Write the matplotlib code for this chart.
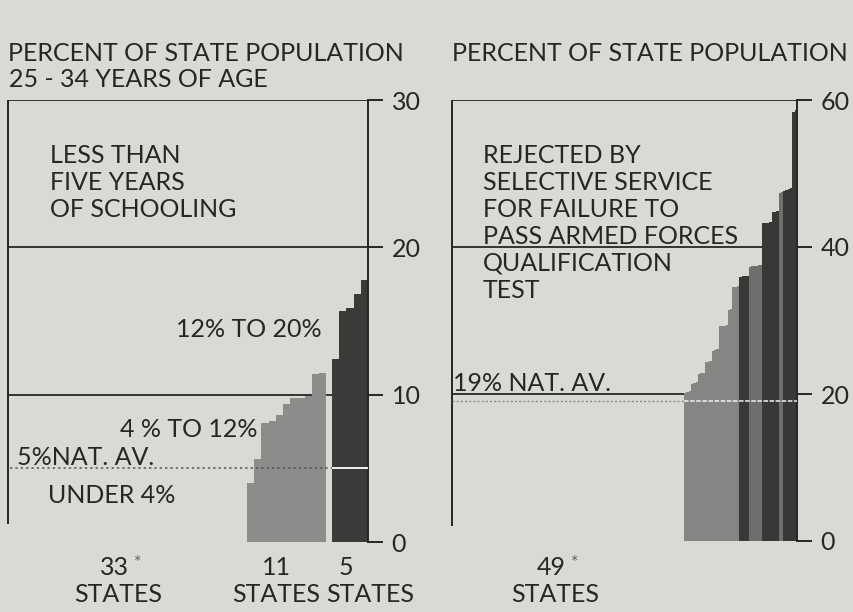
import numpy as np
import matplotlib.pyplot as plt

# left panel - percent 25-34 yr olds with less than five years of schooling
under4_count = 33          # states under 4% (no bar shown)
mid_vals = [4.0, 5.6, 8.1, 8.2, 8.6, 9.4, 9.8, 9.8, 9.9, 11.4, 11.5]   # 4% to 12%
high_vals = [12.4, 15.7, 15.9, 16.8, 17.8]                             # 12% to 20%
school_avg = 5
left_ticks = [0, 10, 20, 30]

# right panel - rejected by selective service, 49 states ascending
reject_vals = [20.2, 20.3, 20.4, 21.4, 21.5, 21.6, 22.7, 22.8, 22.9,
               24.3, 24.4, 24.5, 25.9, 26.0, 26.1, 29.2, 29.3, 29.3, 29.4,
               31.4, 31.6, 34.5, 34.6, 34.7, 35.9, 36.0, 36.0, 36.1,
               37.3, 37.4, 37.4, 37.4, 37.5, 37.5, 43.2, 43.3, 43.3, 43.4,
               44.7, 44.8, 44.9, 47.4, 47.5, 47.6, 47.8, 47.9, 48.0,
               58.4, 58.6]
reject_shade = list("LLLLLLLLLLLLLLLLLLLLLLLLDDDDMMMMMMDDDDDDDMMDDDDDD")
reject_avg = 19
right_ticks = [0, 20, 40, 60]

BG = "#d9dad5"
INK = "#262626"
SHADE = {"L": "#858583", "M": "#6e6e6c", "D": "#383837"}
FONT = "Lato"
FS = 18

W, H = 854, 612
fig = plt.figure(figsize=(W / 100, H / 100), dpi=100)
fig.patch.set_facecolor(BG)


def fx(x):
    return x / W


def fy(y):
    return 1 - y / H


def label(x, y, s, size=FS, ha="left", color=INK):
    fig.text(fx(x), fy(y), s, fontsize=size, ha=ha, va="baseline",
             color=color, family=FONT)


def style_axis(ax, ticks, top):
    ax.set_facecolor("none")
    for k in ["left", "top", "bottom"]:
        ax.spines[k].set_visible(False)
    ax.spines["right"].set_color(INK)
    ax.spines["right"].set_linewidth(1.4)
    ax.set_ylim(0, top)
    ax.set_xticks([])
    ax.yaxis.tick_right()
    ax.set_yticks(ticks)
    ax.tick_params(axis="y", length=11, width=1.4, color=INK, pad=6,
                   labelsize=18, labelcolor=INK)
    for t in ax.get_yticklabels():
        t.set_family(FONT)


# ---- left panel
ax1 = fig.add_axes([fx(8), fy(542), (368 - 8) / W, (542 - 100) / H])
style_axis(ax1, left_ticks, 30)
n_left = under4_count + len(mid_vals) + len(high_vals) + 1
ax1.set_xlim(0, n_left)
ax1.hlines(left_ticks[1:], 0, n_left, color=INK, lw=1.3, zorder=1)
ax1.vlines(0, 1.2, 30, color=INK, lw=1.4, clip_on=False)

mid_x = under4_count + 0.2 + np.arange(len(mid_vals))
high_x = under4_count + len(mid_vals) + 1 + np.arange(len(high_vals))
ax1.bar(mid_x, mid_vals, width=1, align="edge", color="#8c8c8a", zorder=2)
ax1.bar(high_x, high_vals, width=1, align="edge", color="#3a3a39", zorder=2)
ax1.hlines(school_avg, 0.3, high_x[0], color="#555555", lw=1.1,
           linestyles=(0, (1.5, 2)), zorder=3)
ax1.hlines(school_avg, high_x[0], n_left, color="white", lw=1.3, zorder=3)

# ---- right panel
ax2 = fig.add_axes([fx(452), fy(541), (797 - 452) / W, (541 - 100) / H])
style_axis(ax2, right_ticks, 60)
n_right = len(reject_vals)
bar_px = (797 - 684) / n_right
x0 = -(684 - 452) / bar_px
ax2.set_xlim(x0, n_right)
ax2.hlines(right_ticks[1:], x0, n_right, color=INK, lw=1.3, zorder=1)
ax2.vlines(x0, 2, 60, color=INK, lw=1.4, clip_on=False)
ax2.bar(np.arange(n_right), reject_vals, width=1, align="edge",
        color=[SHADE[s] for s in reject_shade], zorder=2)
ax2.hlines(reject_avg, x0, 0, color="#888888", lw=1.0,
           linestyles=(0, (1.5, 1.5)), zorder=3)
ax2.hlines(reject_avg, 0, n_right, color="#f0f0f0", lw=1.1,
           linestyles=(0, (3, 1)), zorder=3)

# ---- texts
label(8, 61, "PERCENT OF STATE POPULATION")
label(9, 87, "25 - 34 YEARS OF AGE")
label(452, 61, "PERCENT OF STATE POPULATION")

for i, s in enumerate(["LESS THAN", "FIVE YEARS", "OF SCHOOLING"]):
    label(50, 163 + 27 * i, s)

label(322, 337, "12% TO 20%", ha="right")
label(120, 437, "4 % TO 12%")
label(17, 465, "5%NAT. AV.")
label(48, 503, "UNDER 4%")

right_lines = ["REJECTED BY", "SELECTIVE SERVICE", "FOR FAILURE TO",
               "PASS ARMED FORCES", "QUALIFICATION", "TEST"]
for i, s in enumerate(right_lines):
    label(483, 163 + 27 * i, s)
label(453, 391, "19% NAT. AV.")

label(114, 575, "33", ha="center")
label(134, 568, "*", size=13, color="#666666")
label(118, 602, "STATES", ha="center")
label(276, 575, "11", ha="center")
label(276, 602, "STATES", ha="center")
label(346, 575, "5", ha="center")
label(370, 602, "STATES", ha="center")
label(551, 575, "49", ha="center")
label(571, 568, "*", size=13, color="#666666")
label(555, 602, "STATES", ha="center")

fig.savefig("out.png", dpi=100, facecolor=BG)
